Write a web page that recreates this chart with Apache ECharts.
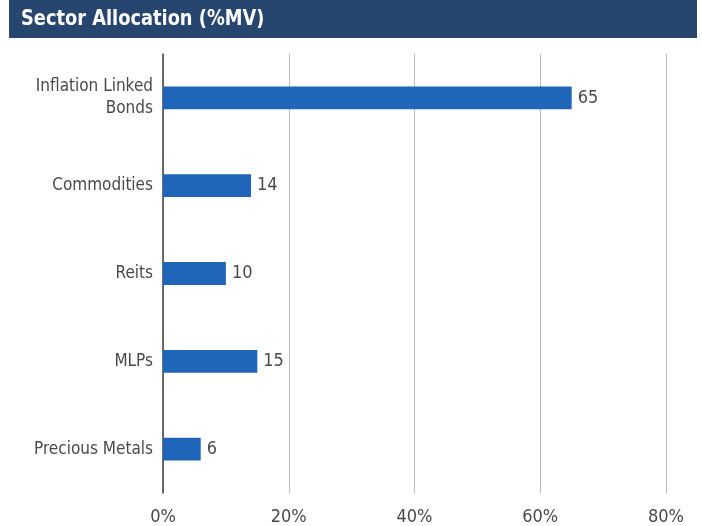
<!DOCTYPE html>
<html><head><meta charset="utf-8">
<script src="https://cdn.jsdelivr.net/npm/echarts@6/dist/echarts.min.js"></script>
<style>html,body{margin:0;padding:0;background:#fff}#c{width:702px;height:526px}</style>
</head><body><div id="c"></div>
<script>
const categories = ['Inflation Linked\nBonds', 'Commodities', 'Reits', 'MLPs', 'Precious Metals'];
const values = [65, 14, 10, 15, 6];
const xTicks = [0, 20, 40, 60, 80];
const titleText = 'Sector Allocation (%MV)';

const FONT = '"DejaVu Sans Condensed", sans-serif';
const chart = echarts.init(document.getElementById('c'));
chart.setOption({
  animation: false,
  graphic: [
    { type: 'rect', shape: { x: 9, y: 0, width: 688, height: 38 }, style: { fill: '#26466f' } },
    { type: 'text', x: 21, y: 8, scaleX: 0.9, style: { text: titleText, fill: '#fff', font: 'bold 22px "DejaVu Sans Condensed", sans-serif' } }
  ],
  grid: { left: 163, right: 36, top: 54, bottom: 31, containLabel: false },
  xAxis: {
    type: 'value', min: xTicks[0], max: xTicks[xTicks.length - 1], interval: 20,
    axisLine: { show: false }, axisTick: { show: false },
    splitLine: { lineStyle: { color: '#bcbcbc', width: 1 } },
    axisLabel: { formatter: '{value}%', color: '#4a4a4a', fontSize: 18, margin: 15, fontFamily: FONT }
  },
  yAxis: {
    type: 'category', data: categories, inverse: true,
    axisLine: { show: true, lineStyle: { color: '#404040', width: 1.5 } },
    axisTick: { show: false },
    axisLabel: { color: '#4a4a4a', fontSize: 17, margin: 10, lineHeight: 22, fontFamily: FONT }
  },
  series: [{
    type: 'bar', data: values, barWidth: '26%',
    itemStyle: { color: '#1f65b9' },
    label: { show: true, position: 'right', color: '#4a4a4a', fontSize: 18, distance: 6, fontFamily: FONT }
  }]
});
</script></body></html>
